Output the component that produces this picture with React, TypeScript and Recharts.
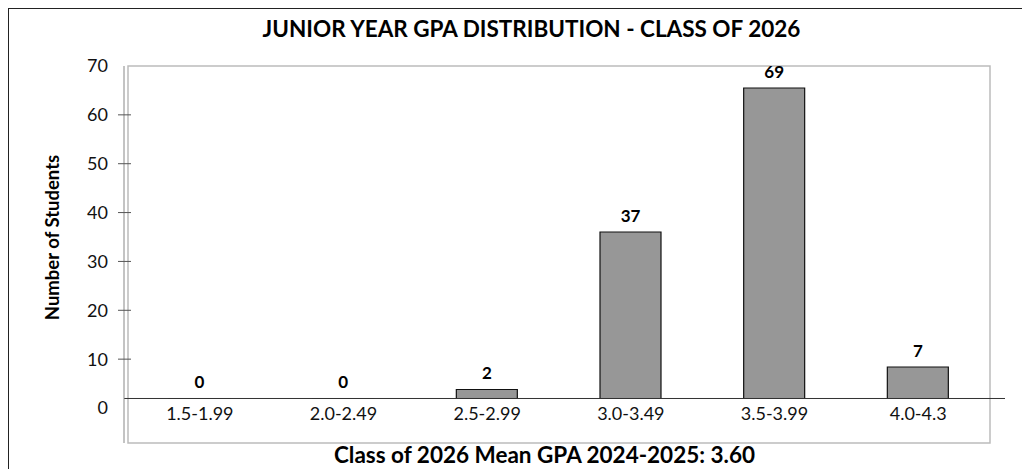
import React from 'react';
import { BarChart, Bar, XAxis, YAxis, LabelList, ReferenceLine, ReferenceArea, Label } from 'recharts';

const gpaRanges = ['1.5-1.99', '2.0-2.49', '2.5-2.99', '3.0-3.49', '3.5-3.99', '4.0-4.3'];
const studentCounts = [0, 0, 2, 37, 69, 7];
const yTickValues = [0, 10, 20, 30, 40, 50, 60, 70];
const chartTitle = 'JUNIOR YEAR GPA DISTRIBUTION - CLASS OF 2026';
const xAxisTitle = 'Class of 2026 Mean GPA 2024-2025: 3.60';
const yAxisTitle = 'Number of Students';

const data = gpaRanges.map((range, i) => ({ range, count: studentCounts[i] }));

const FONT = 'Lato, "Open Sans", sans-serif';
const CHART_W = 1021;
const CHART_H = 460;
const Y_AXIS_W = 115;
const MARGIN = { top: 57, right: 25, bottom: 0, left: 0 };
const PLOT_W = CHART_W - Y_AXIS_W - MARGIN.right;

const YTick = (props: any) => {
  const { x, y, payload } = props;
  const v = payload.value;
  const showMark = v !== 0 && v !== 70;
  return (
    <g>
      {showMark && <line x1={x - 6} x2={x + 7} y1={y} y2={y} stroke="#555" strokeWidth={1} />}
      <text x={x - 16} y={y} dy="0.36em" textAnchor="end" fontSize={18} fill="#111" fontFamily={FONT}>
        {v}
      </text>
    </g>
  );
};

const XTick = (props: any) => {
  const { x, y, payload } = props;
  return (
    <text x={x} y={y - 23} textAnchor="middle" fontSize={18} fill="#111" fontFamily={FONT}>
      {payload.value}
    </text>
  );
};

const XTitleContent = (props: any) => {
  const vb = props.viewBox || { x: 0, y: 0, width: 0, height: 0 };
  return (
    <text x={vb.x + vb.width / 2 - 20} y={vb.y + 20} textAnchor="middle" fontSize={22.5} fontWeight="bold" fill="#000" fontFamily={FONT}>
      {xAxisTitle}
    </text>
  );
};

const YTitleContent = (props: any) => {
  const vb = props.viewBox || { x: 0, y: 0, width: 0, height: 0 };
  const cx = vb.x + 50;
  const cy = vb.y + vb.height / 2 - 17;
  const titleX = vb.x + vb.width + PLOT_W / 2 - 33;
  return (
    <g>
      <text x={titleX} y={vb.y - 29} textAnchor="middle" fontSize={22.5} fontWeight="bold" fill="#000" fontFamily={FONT}>
        {chartTitle}
      </text>
      <text x={cx} y={cy} transform={`rotate(-90, ${cx}, ${cy})`} textAnchor="middle" fontSize={18.5} fontWeight="bold" fill="#000" fontFamily={FONT}>
        {yAxisTitle}
      </text>
    </g>
  );
};

const zeroMinSize = (value: any) => (value === 0 ? 0.01 : 0);

export default function App() {
  return (
    <div style={{ border: '1px solid #222', width: 1030, height: 470, boxSizing: 'border-box', fontFamily: FONT, background: '#fff' }}>
      <BarChart width={CHART_W} height={CHART_H} data={data} margin={MARGIN} barCategoryGap={0}>
        <ReferenceArea
          xAxisId="main"
          yAxisId="bars"
          y1={-9.89}
          y2={73.89}
          fill="none"
          stroke="#bcbcbc"
          strokeWidth={1.5}
          ifOverflow="visible"
        />
        <XAxis
          xAxisId="main"
          dataKey="range"
          type="category"
          height={26}
          padding={{ left: 4, right: 15 }}
          tickLine={false}
          tickSize={0}
          tickMargin={0}
          axisLine={false}
          tick={<XTick />}
          interval={0}
        >
          <Label content={<XTitleContent />} />
        </XAxis>
        <YAxis
          yAxisId="ticks"
          type="number"
          domain={[-7.164, 70]}
          allowDataOverflow
          ticks={yTickValues}
          interval={0}
          width={Y_AXIS_W}
          tickLine={false}
          tickSize={0}
          tickMargin={0}
          axisLine={{ stroke: '#888', strokeWidth: 1 }}
          tick={<YTick />}
        >
          <Label content={<YTitleContent />} />
        </YAxis>
        <YAxis yAxisId="bars" type="number" domain={[-9.89, 73.89]} allowDataOverflow hide width={0} />
        <Bar
          xAxisId="main"
          yAxisId="bars"
          dataKey="count"
          barSize={61}
          fill="#979797"
          stroke="#111"
          strokeWidth={1.2}
          minPointSize={zeroMinSize}
          isAnimationActive={false}
        >
          <LabelList dataKey="count" position="top" offset={10} fontSize={17} fontWeight="bold" fill="#000" fontFamily={FONT} />
        </Bar>
        <ReferenceLine xAxisId="main" yAxisId="bars" y={0} stroke="#333" strokeWidth={1} />
      </BarChart>
    </div>
  );
}
